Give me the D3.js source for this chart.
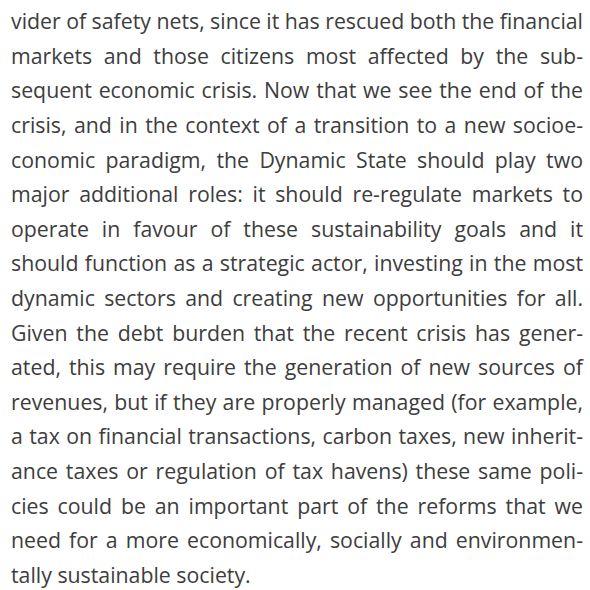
<!DOCTYPE html>
<html>
<head>
<meta charset="utf-8">
<script src="https://cdn.jsdelivr.net/npm/d3@7/dist/d3.min.js"></script>
<style>
html,body{margin:0;padding:0;background:#fff;}
svg{display:block;}
</style>
</head>
<body>
<script>
const lines = [
  "vider of safety nets, since it has rescued both the financial",
  "markets and those citizens most affected by the sub-",
  "sequent economic crisis. Now that we see the end of the",
  "crisis, and in the context of a transition to a new socioe-",
  "conomic paradigm, the Dynamic State should play two",
  "major additional roles: it should re-regulate markets to",
  "operate in favour of these sustainability goals and it",
  "should function as a strategic actor, investing in the most",
  "dynamic sectors and creating new opportunities for all.",
  "Given the debt burden that the recent crisis has gener-",
  "ated, this may require the generation of new sources of",
  "revenues, but if they are properly managed (for example,",
  "a tax on financial transactions, carbon taxes, new inherit-",
  "ance taxes or regulation of tax havens) these same poli-",
  "cies could be an important part of the reforms that we",
  "need for a more economically, socially and environmen-",
  "tally sustainable society."
];
const justified = lines.map((d, i) => i < lines.length - 1);

const W = 590, H = 590;
const left = 11, right = 583;
const svg = d3.select("body").append("svg").attr("width", W).attr("height", H);

const y = d3.scaleLinear().domain([0, lines.length - 1]).range([29.3, 582.7]);

const g = svg.append("g")
  .attr("font-family", "'Open Sans', 'Noto Sans', sans-serif")
  .attr("font-size", 21.3)
  .attr("fill", "#3d3d3d");

const spaceW = (() => {
  const tmp = g.append("text").text("a a");
  const a = g.append("text").text("aa");
  const w = tmp.node().getComputedTextLength() - a.node().getComputedTextLength();
  tmp.remove(); a.remove();
  return w;
})();

lines.forEach((line, i) => {
  const words = line.split(" ");
  const t = g.append("text").attr("y", y(i));
  const spans = t.selectAll("tspan").data(words).join("tspan").text(d => d);
  const widths = spans.nodes().map(n => n.getComputedTextLength());
  const total = d3.sum(widths);
  const gap = justified[i] && words.length > 1
    ? (right - left - total) / (words.length - 1)
    : spaceW;
  let x = left;
  spans.each(function(d, j) {
    d3.select(this).attr("x", x);
    x += widths[j] + gap;
  });
});
</script>
</body>
</html>
